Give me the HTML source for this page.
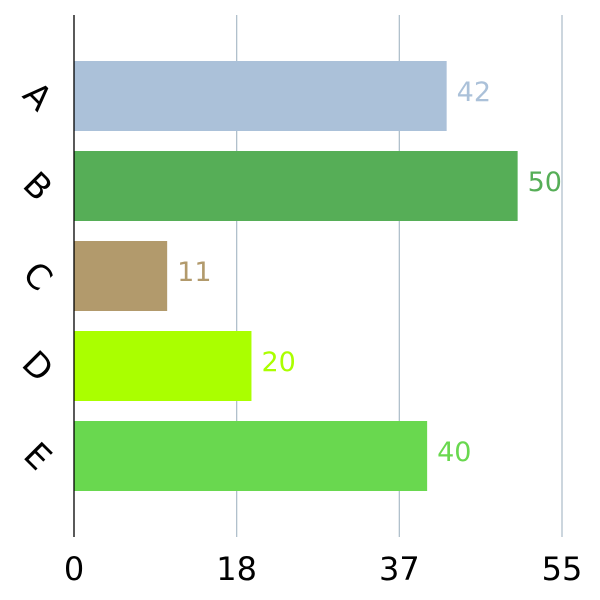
<!DOCTYPE html>
<html><head><meta charset="utf-8"><style>
html,body{margin:0;padding:0;background:#fff;}
svg{display:block;font-family:"DejaVu Sans","Liberation Sans",sans-serif;}
</style></head><body>
<svg id="chart" width="600" height="600" viewBox="0 0 600 600"></svg>
<script>
const categories = ["A","B","C","D","E"];
const values = [42,50,10.5,20,39.8];
const valueLabels = ["42","50","11","20","40"];
const colors = ["#abc1d9","#56ae57","#b29a6c","#aaff00","#69d84f"];
const tickValues = [0,18.333,36.667,55];
const tickLabels = ["0","18","37","55"];
const xMax = 55;

const NS="http://www.w3.org/2000/svg";
const svgEl=document.getElementById('chart');
const plotLeft=74,plotRight=562,plotTop=15,plotBottom=537;
const step=90,barH=70,firstTop=61;
function xs(v){return plotLeft+(v/xMax)*(plotRight-plotLeft);}
function yTop(i){return firstTop+i*step;}
function mk(t,a){const e=document.createElementNS(NS,t);for(const k in a)e.setAttribute(k,a[k]);svgEl.appendChild(e);return e;}

tickValues.forEach((v,i)=>{
  if(i>0){
    const g=mk('line',{x1:xs(v),x2:xs(v),y1:plotTop,y2:plotBottom,stroke:'#b0c0cc','stroke-width':1.3});
    
    
  }
  const t=mk('text',{x:xs(v),y:580,'text-anchor':'middle','font-size':32,fill:'#000'});
  t.textContent=tickLabels[i];
  
  
});

categories.forEach((c,i)=>{
  const yt=yTop(i);
  const r=mk('rect',{x:plotLeft,y:yt,width:xs(values[i])-plotLeft,height:barH,fill:colors[i]});
  
  
  const v=mk('text',{x:xs(values[i])+10,y:yt+barH/2+5,'font-size':27,fill:colors[i]});
  v.textContent=valueLabels[i];
  
  
  const cx=38,cy=yt+barH/2;
  const l=mk('text',{x:cx,y:cy+12,'text-anchor':'middle','font-size':34,fill:'#000',transform:`rotate(45 ${cx} ${cy})`});
  l.textContent=c;
  
  
});

const ax=mk('line',{x1:plotLeft,x2:plotLeft,y1:plotTop,y2:plotBottom,stroke:'#000','stroke-width':1.3});


</script>
</body></html>
